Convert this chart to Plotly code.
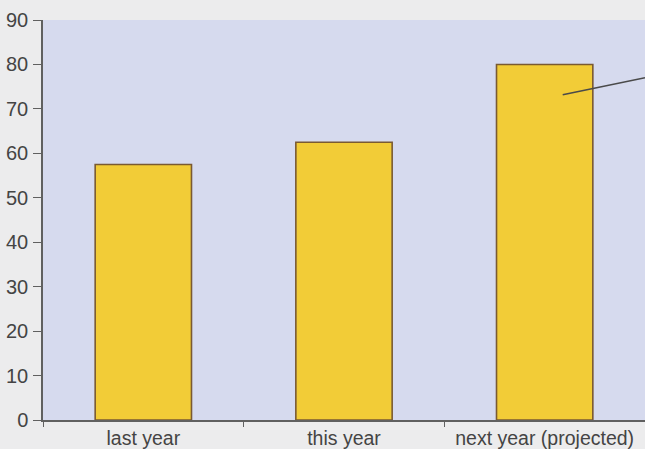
import plotly.graph_objects as go

periods = ["last year", "this year", "next year (projected)"]
values = [57.5, 62.5, 80]
y_ticks = [0, 10, 20, 30, 40, 50, 60, 70, 80, 90]

fig = go.Figure(
    go.Bar(
        x=periods, y=values,
        marker=dict(color="#f2cc37", line=dict(color="#7a5a32", width=1.6)),
        width=0.48,
    )
)

# pointer line leaving the projected bar towards an off-chart note
fig.add_shape(
    type="line", xref="x", yref="y",
    x0=2.09, y0=73.2, x1=2.5, y1=77.0,
    line=dict(color="#4a4a4a", width=1.6),
)

fig.update_layout(
    width=645, height=449,
    margin=dict(l=43, r=0, t=20, b=29, autoexpand=False),
    paper_bgcolor="#ececed",
    plot_bgcolor="#d6daee",
    font=dict(family="Liberation Sans, Arial, sans-serif", size=20, color="#444444"),
    showlegend=False,
    bargap=0.52,
)
fig.update_xaxes(
    range=[-0.5, 2.5], showline=True, linecolor="#606060", linewidth=1.5,
    ticks="outside", tickson="boundaries", ticklen=5, tickcolor="#606060",
    showgrid=False, automargin=False, ticklabelstandoff=0,
    tickfont=dict(size=19.5),
)
fig.update_yaxes(
    range=[0, 90], tickvals=y_ticks, showline=True, linecolor="#606060", linewidth=1.5,
    ticks="outside", ticklen=8, tickcolor="#606060", showgrid=False, zeroline=False,
    automargin=False, ticklabelstandoff=1,
)

fig.write_html("out.html", config={"displayModeBar": False},
               post_script="document.body.style.margin='0';")
